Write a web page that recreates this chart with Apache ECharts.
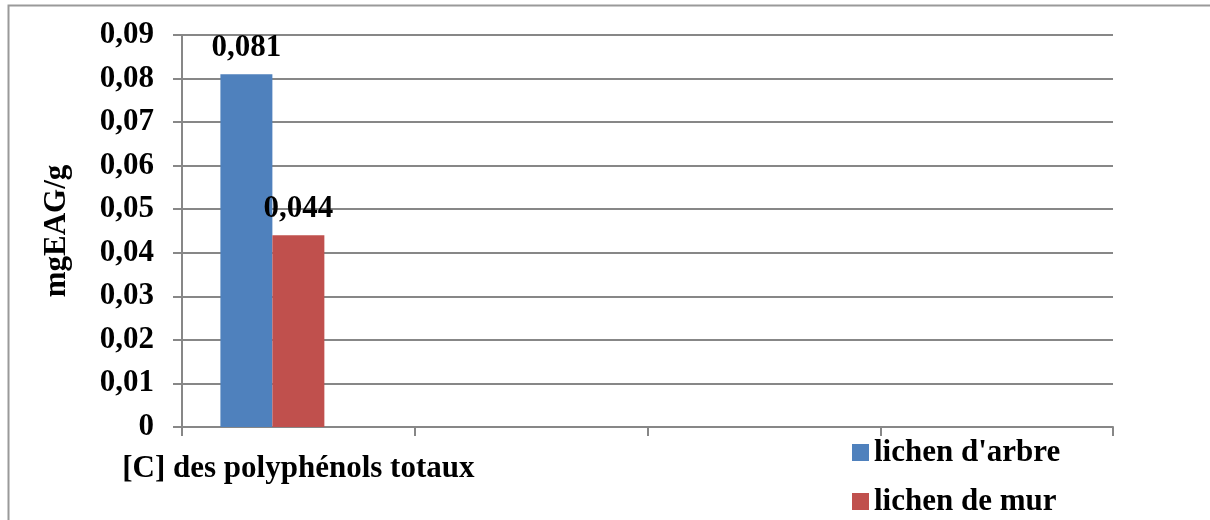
<!DOCTYPE html>
<html>
<head>
<meta charset="utf-8">
<style>
  html, body { margin: 0; padding: 0; background: #fff; }
  #chart { width: 1210px; height: 520px; }
</style>
<script src="https://cdn.jsdelivr.net/npm/echarts@6/dist/echarts.min.js"></script>
</head>
<body>
<div id="chart"></div>
<script>
// Total polyphenol content (mg gallic acid equivalent per gram of lichen)
const categories = ['[C] des polyphénols totaux', '', '', ''];
const seriesNames = ["lichen d'arbre", 'lichen de mur', 'série 3'];
const lichenArbre = [0.081, null, null, null];
const lichenMur = [0.044, null, null, null];
const serie3 = [null, null, null, null];
const yTickLabels = ['0', '0,01', '0,02', '0,03', '0,04', '0,05', '0,06', '0,07', '0,08', '0,09'];

const FONT = '"Liberation Serif", "Times New Roman", serif';
const textBase = { fontFamily: FONT, fontWeight: 'bold', color: '#000', fontSize: 31 };
const GRID_GRAY = '#878787';

const fmtComma = v => String(v).replace('.', ',');

const chart = echarts.init(document.getElementById('chart'), null, { renderer: 'canvas' });

const barLabel = {
  show: true,
  position: 'top',
  distance: 11,
  ...textBase,
  formatter: p => fmtComma(p.value)
};

// one legend block per entry, stacked vertically at the lower right
const legendItem = (name, top) => ({
  data: [name],
  orient: 'vertical',
  left: 852,
  top: top,
  itemWidth: 17,
  itemHeight: 17,
  icon: 'rect',
  padding: 0,
  textStyle: { ...textBase, lineHeight: 31 }
});

chart.setOption({
  animation: false,
  backgroundColor: '#fff',
  graphic: [{
    type: 'rect',
    shape: { x: 8.5, y: 5.5, width: 1300, height: 700 },
    style: { fill: 'none', stroke: '#9a9a9a', lineWidth: 2 },
    silent: true
  }],
  grid: { left: 182, right: 97, top: 35, bottom: 93 },
  legend: [
    legendItem(seriesNames[0], 437),
    legendItem(seriesNames[1], 486)
  ],
  xAxis: {
    type: 'category',
    data: categories,
    boundaryGap: true,
    axisLine: { show: true, lineStyle: { color: GRID_GRAY, width: 2 } },
    axisTick: { show: true, length: 9, lineStyle: { color: GRID_GRAY, width: 2 } },
    axisLabel: { ...textBase, interval: 0, margin: 26 }
  },
  yAxis: {
    type: 'value',
    min: 0,
    max: 0.09,
    interval: 0.01,
    name: 'mgEAG/g',
    nameLocation: 'middle',
    nameGap: 110,
    nameRotate: 90,
    nameTextStyle: { ...textBase },
    axisLine: { show: true, lineStyle: { color: GRID_GRAY, width: 2 } },
    axisTick: { show: true, length: 9, lineStyle: { color: GRID_GRAY, width: 2 } },
    splitLine: { show: true, lineStyle: { color: GRID_GRAY, width: 2 } },
    axisLabel: {
      ...textBase,
      margin: 28,
      formatter: v => yTickLabels[Math.round(v / 0.01)]
    }
  },
  series: [
    {
      name: seriesNames[0],
      type: 'bar',
      data: lichenArbre,
      barGap: '0%',
      barCategoryGap: '33%',
      itemStyle: { color: '#4F81BD' },
      label: barLabel
    },
    {
      name: seriesNames[1],
      type: 'bar',
      data: lichenMur,
      barGap: '0%',
      barCategoryGap: '33%',
      itemStyle: { color: '#C0504D' },
      label: barLabel
    },
    {
      name: seriesNames[2],
      type: 'bar',
      data: serie3,
      barGap: '0%',
      barCategoryGap: '33%',
      itemStyle: { color: '#9BBB59' }
    }
  ]
});
</script>
</body>
</html>
